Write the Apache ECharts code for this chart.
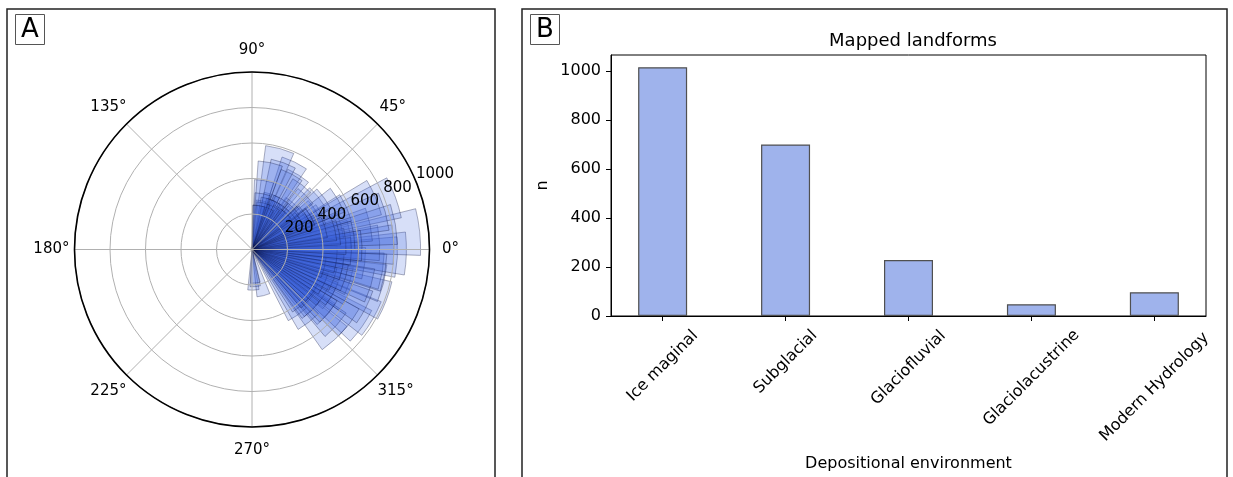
<!DOCTYPE html>
<html>
<head>
<meta charset="utf-8">
<title>Landform orientation and counts</title>
<script src="https://cdn.jsdelivr.net/npm/echarts@6/dist/echarts.min.js"></script>
<style>
  html, body { margin: 0; padding: 0; background: #fff; }
  #chart { width: 1233px; height: 477px; }
</style>
</head>
<body>
<div id="chart"></div>
<script>
// --- panel A: rose wedges (centre angle in degrees, count) ---
// outer, lightly overlapped wedges
const wedgeAngles = [272, 284, 313, 316, 319, 322, 325, 328, 330, 333, 336, 339, 342, 345.5, 348, 350.5,
  353, 355, 357, 358.5, 1, 3, 6, 9, 12, 15, 20, 23, 24, 27, 30, 33, 36, 39, 42, 45, 49, 53, 58, 61,
  64, 67, 70, 74.5, 77, 80, 81];
const wedgeValues = [229, 268, 689, 480, 560, 420, 757, 520, 785, 600, 450, 809, 580, 765, 520, 745,
  640, 480, 820, 870, 600, 720, 950, 560, 680, 520, 860, 755, 583, 440, 380, 420, 350, 476, 320, 280,
  350, 260, 495, 300, 548, 240, 330, 590, 280, 394, 250];
// middle layer
const midAngles = [275, 318, 323, 333, 343, 350, 2, 10, 16, 30, 35, 45, 52, 62, 70, 78];
const midValues = [210, 640, 690, 720, 700, 760, 800, 820, 780, 560, 500, 430, 460, 480, 520, 500];
// inner, densely overlapped wedges
const coreAngles = [276, 305, 308, 311, 314, 318, 321, 324, 327, 331, 334, 337, 340, 343, 346, 349, 352,
  356, 359, 2, 5, 8, 11, 14, 17, 21, 26, 29, 32, 35, 41, 44, 47, 52, 56, 60, 63, 66, 69, 72, 76, 79, 81];
const coreValues = [190, 450, 520, 420, 480, 430, 560, 420, 480, 520, 450, 600, 490, 550, 420, 520, 480,
  600, 560, 620, 530, 580, 500, 480, 430, 400, 360, 380, 320, 360, 300, 330, 280, 300, 280, 330, 270,
  300, 250, 300, 270, 320, 250];
const radialTicks = [200, 400, 600, 800, 1000];

// --- panel B: mapped landforms ---
const environments = ['Ice maginal', 'Subglacial', 'Glaciofluvial', 'Glaciolacustrine', 'Modern Hydrology'];
const landformCounts = [1015, 700, 228, 48, 97];
const countTicks = [0, 200, 400, 600, 800, 1000];

const WEDGE_WIDTH = 16; // degrees
const FONT = 'DejaVu Sans';

const chart = echarts.init(document.getElementById('chart'));

const wedgeData = wedgeAngles.map((a, i) => [wedgeValues[i], a])
  .concat(midAngles.map((a, i) => [midValues[i], a]))
  .concat(coreAngles.map((a, i) => [coreValues[i], a]));
const barData = landformCounts.map((v, i) => [i, v]);
const envIndex = environments.map((_, i) => i);

// per-label shift so rotated labels sit centred under their ticks (matplotlib style)
const labelShift = [5.7, 0, 8.5, 22.6, 35.4];
const richLabels = {};
labelShift.forEach((s, i) => {
  richLabels['l' + i] = { fontSize: 16, fontFamily: FONT, color: '#000', padding: [s, s, 0, 0] };
});

// angle labels: push each one out so it is centred ~22px beyond the rim
const anglePads = [[0, 0, 0, 12.5], [0, 0, 9, 2], [0, 0, 14, 0], [0, 0, 9, 0],
  [0, 5, 0, 0], [8.5, 0, 0, 0], [15.5, 0, 0, 0], [8.5, 0, 0, 0]];
const richAngles = {};
anglePads.forEach((p, i) => {
  richAngles['a' + i] = { fontSize: 15, fontFamily: FONT, color: '#000', padding: p };
});

function renderWedge(params, api) {
  const cx = params.coordSys.cx;
  const cy = params.coordSys.cy;
  const v = api.value(0);
  const a = api.value(1);
  const p1 = api.coord([v, a + WEDGE_WIDTH / 2]);
  const p2 = api.coord([v, a - WEDGE_WIDTH / 2]);
  const r = Math.hypot(p1[0] - cx, p1[1] - cy);
  let a1 = Math.atan2(p1[1] - cy, p1[0] - cx);
  let a2 = Math.atan2(p2[1] - cy, p2[0] - cx);
  if (a2 < a1) a2 += Math.PI * 2;
  return {
    type: 'sector',
    shape: { cx: cx, cy: cy, r0: 0, r: r, startAngle: a1, endAngle: a2, clockwise: true },
    style: { fill: 'rgba(55,95,222,0.2)', stroke: 'rgba(10,15,60,0.32)', lineWidth: 1 }
  };
}

const option = {
  animation: false,
  textStyle: { fontFamily: FONT, color: '#000' },
  title: [
    {
      text: 'A', left: 15, top: 14, padding: [1, 6, 0, 6],
      borderColor: '#555', borderWidth: 1,
      textStyle: { fontSize: 26, fontWeight: 'normal', fontFamily: FONT, color: '#000', lineHeight: 30 }
    },
    {
      text: 'B', left: 530, top: 14, padding: [1, 6, 0, 6],
      borderColor: '#555', borderWidth: 1,
      textStyle: { fontSize: 26, fontWeight: 'normal', fontFamily: FONT, color: '#000', lineHeight: 30 }
    },
    {
      text: 'Mapped landforms', left: 908, top: 27, textAlign: 'center',
      textStyle: { fontSize: 18, fontWeight: 'normal', fontFamily: FONT, color: '#000' }
    }
  ],
  graphic: [
    { type: 'rect', shape: { x: 7, y: 9, width: 488, height: 490 }, style: { fill: 'none', stroke: '#222', lineWidth: 1.5 } },
    { type: 'rect', shape: { x: 522, y: 9, width: 705, height: 490 }, style: { fill: 'none', stroke: '#222', lineWidth: 1.5 } }
  ],
  polar: [
    { center: [252, 249.5], radius: 177.5 },
    { center: [252, 249.5], radius: 177.5 }
  ],
  angleAxis: [
    {
      polarIndex: 0, type: 'value', min: 0, max: 360, interval: 45,
      startAngle: 0, clockwise: false, z: 10,
      axisLine: { lineStyle: { color: '#000', width: 1.6 } },
      axisTick: { show: false },
      splitLine: { lineStyle: { color: '#b0b0b0', width: 1 } },
      axisLabel: {
        margin: 0, fontSize: 15, color: '#000', fontFamily: FONT,
        formatter: v => (v === 360 ? '' : '{a' + Math.round(v / 45) + '|' + v + '°}'),
        rich: richAngles
      }
    },
    {
      polarIndex: 1, type: 'value', min: 0, max: 360, startAngle: 22.5, clockwise: false, show: false
    }
  ],
  radiusAxis: [
    {
      polarIndex: 0, type: 'value', min: 0, max: 1000, interval: 200, z: 10,
      axisLine: { show: false }, axisTick: { show: false }, axisLabel: { show: false },
      splitLine: { show: true, lineStyle: { color: '#b0b0b0', width: 1 } }
    },
    {
      polarIndex: 1, type: 'value', min: 0, max: 1000, interval: 200, z: 11,
      axisLine: { show: false }, axisTick: { show: false }, splitLine: { show: false },
      axisLabel: {
        customValues: radialTicks, formatter: v => String(v),
        margin: 0, align: 'left', verticalAlign: 'bottom',
        fontSize: 15, color: '#000', fontFamily: FONT
      }
    }
  ],
  grid: {
    left: 611, right: 27, top: 55, bottom: 159,
    show: true, borderColor: '#000', borderWidth: 1, backgroundColor: 'transparent'
  },
  xAxis: {
    type: 'value', min: -0.42, max: 4.42,
    name: 'Depositional environment', nameLocation: 'middle', nameGap: 140,
    nameTextStyle: { fontSize: 16, fontFamily: FONT, color: '#000' },
    axisLine: { onZero: false, lineStyle: { color: '#000', width: 1 } },
    axisTick: { customValues: envIndex, length: 5, lineStyle: { color: '#000' } },
    splitLine: { show: false },
    axisLabel: {
      customValues: envIndex, rotate: 45, align: 'center', verticalAlign: 'middle', margin: 46,
      formatter: v => '{l' + Math.round(v) + '|' + environments[Math.round(v)] + '}',
      rich: richLabels
    }
  },
  yAxis: {
    type: 'value', min: 0, max: 1065,
    name: 'n', nameLocation: 'middle', nameGap: 60,
    nameTextStyle: { fontSize: 16, fontFamily: FONT, color: '#000' },
    axisLine: { show: true, onZero: false, lineStyle: { color: '#000', width: 1 } },
    axisTick: { show: true, customValues: countTicks, length: 5, lineStyle: { color: '#000' } },
    splitLine: { show: false },
    axisLabel: {
      customValues: countTicks, formatter: v => String(v),
      margin: 10, fontSize: 16, color: '#000', fontFamily: FONT
    }
  },
  series: [
    {
      type: 'custom', coordinateSystem: 'polar', polarIndex: 0, z: 2,
      renderItem: renderWedge, data: wedgeData, silent: true
    },
    {
      type: 'bar', xAxisIndex: 0, yAxisIndex: 0, data: barData, barWidth: 49,
      itemStyle: { color: '#9fb3ec', borderColor: '#505050', borderWidth: 1.2 }
    }
  ]
};

chart.setOption(option);
</script>
</body>
</html>
